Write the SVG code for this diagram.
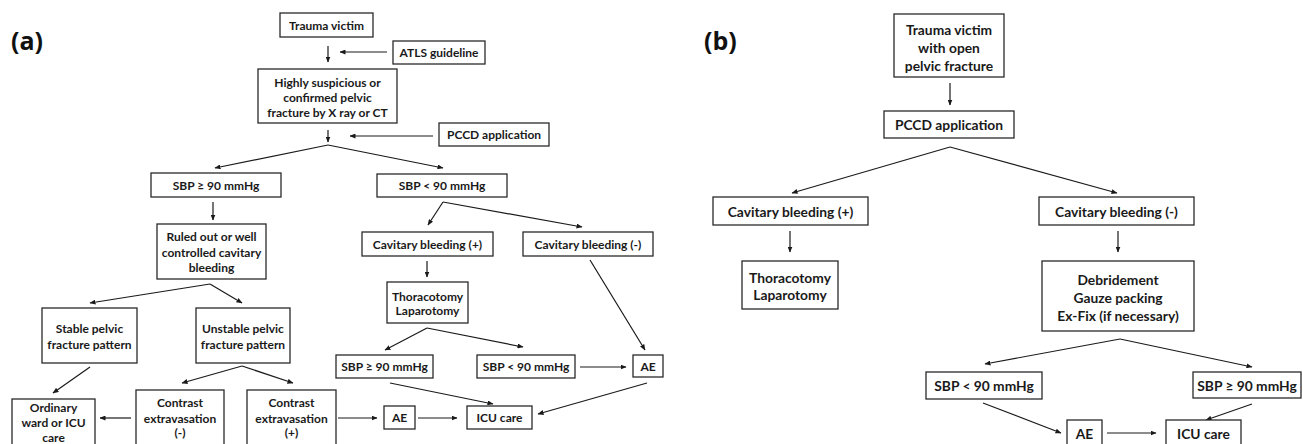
<svg xmlns="http://www.w3.org/2000/svg" width="1303" height="444" viewBox="0 0 1303 444">
<style>
  .box { fill: #ffffff; stroke: #2a2a2a; stroke-width: 1.3; }
  .t { font-family: Lato, "Open Sans", sans-serif; font-weight: bold; fill: #1a1a1a; text-anchor: middle; dominant-baseline: central; }
  .ta { font-size: 12px; }
  .tb { font-size: 13.8px; }
  .lbl { font-family: "Open Sans", Lato, sans-serif; font-weight: bold; font-size: 25px; fill: #111; }
  .c { stroke: #1a1a1a; stroke-width: 1.2; fill: none; }
  .ca { stroke: #1a1a1a; stroke-width: 1.2; fill: none; marker-end: url(#ah); }
</style>
<defs>
  <marker id="ah" markerWidth="6" markerHeight="5" refX="5.5" refY="2.5" orient="auto" markerUnits="userSpaceOnUse">
    <path d="M0,0 L6,2.5 L0,5 z" fill="#1a1a1a"/>
  </marker>
</defs>
<rect width="1303" height="444" fill="#ffffff"/>

<text class="lbl" x="11" y="50">(a)</text>
<text class="lbl" x="704" y="50">(b)</text>

<g id="connectors">
  <line class="ca" x1="328" y1="46" x2="328" y2="62"/>
  <line class="ca" x1="387" y1="52" x2="340" y2="52"/>
  <line class="ca" x1="328" y1="130" x2="328" y2="142"/>
  <line class="ca" x1="433" y1="136" x2="350" y2="136"/>
  <line class="ca" x1="328" y1="145" x2="215" y2="168"/>
  <line class="ca" x1="328" y1="145" x2="443" y2="168"/>
  <line class="ca" x1="213" y1="202" x2="213" y2="220"/>
  <line class="ca" x1="210" y1="284" x2="90" y2="303"/>
  <line class="ca" x1="210" y1="284" x2="242" y2="303"/>
  <line class="ca" x1="443" y1="202" x2="428" y2="225"/>
  <line class="ca" x1="443" y1="202" x2="582" y2="227"/>
  <line class="ca" x1="427" y1="261" x2="427" y2="277"/>
  <line class="ca" x1="427" y1="328" x2="385" y2="350"/>
  <line class="ca" x1="427" y1="328" x2="523" y2="347"/>
  <line class="ca" x1="90" y1="367" x2="53" y2="393"/>
  <line class="ca" x1="242" y1="366" x2="182" y2="383"/>
  <line class="ca" x1="242" y1="366" x2="293" y2="383"/>
  <line class="ca" x1="131" y1="418" x2="100" y2="418"/>
  <line class="ca" x1="338" y1="418" x2="377" y2="418"/>
  <line class="ca" x1="418" y1="418" x2="457" y2="418"/>
  <line class="ca" x1="580" y1="367" x2="626" y2="367"/>
  <line class="ca" x1="590" y1="260" x2="645" y2="350"/>
  <line class="ca" x1="390" y1="383" x2="493" y2="404"/>
  <line class="ca" x1="647" y1="383" x2="538" y2="414"/>

  <line class="ca" x1="950" y1="83" x2="950" y2="105"/>
  <line class="ca" x1="950" y1="147" x2="792" y2="193"/>
  <line class="ca" x1="950" y1="147" x2="1117" y2="193"/>
  <line class="ca" x1="790" y1="231" x2="790" y2="252"/>
  <line class="ca" x1="1118" y1="231" x2="1118" y2="252"/>
  <line class="ca" x1="1120" y1="339" x2="985" y2="364"/>
  <line class="ca" x1="1120" y1="339" x2="1252" y2="367"/>
  <line class="ca" x1="983" y1="403" x2="1061" y2="433"/>
  <line class="ca" x1="1107" y1="433" x2="1156" y2="433"/>
  <line class="ca" x1="1252" y1="404" x2="1206" y2="420"/>
</g>

<!-- Panel (a) -->
<g id="a-trauma"><rect class="box" x="280" y="13" width="93" height="24"/><text class="t ta" x="326.5" y="25">Trauma victim</text></g>
<g id="a-atls"><rect class="box" x="393" y="41" width="92" height="23"/><text class="t ta" x="439" y="52.5">ATLS guideline</text></g>
<g id="a-suspicious"><rect class="box" x="258" y="69" width="139" height="54"/>
  <text class="t ta" x="327.5" y="82">Highly suspicious or</text>
  <text class="t ta" x="327.5" y="97">confirmed pelvic</text>
  <text class="t ta" x="327.5" y="112">fracture by X ray or CT</text></g>
<g id="a-pccd"><rect class="box" x="439" y="123" width="110" height="23"/><text class="t ta" x="494" y="134.5">PCCD application</text></g>
<g id="a-sbp-hi"><rect class="box" x="151" y="173" width="130" height="24"/><text class="t ta" x="216" y="185">SBP ≥ 90 mmHg</text></g>
<g id="a-sbp-lo"><rect class="box" x="377" y="174" width="130" height="23"/><text class="t ta" x="442" y="185.5">SBP &lt; 90 mmHg</text></g>
<g id="a-ruled"><rect class="box" x="157" y="224" width="109" height="55"/>
  <text class="t ta" x="211.5" y="236">Ruled out or well</text>
  <text class="t ta" x="211.5" y="252">controlled cavitary</text>
  <text class="t ta" x="211.5" y="267">bleeding</text></g>
<g id="a-stable"><rect class="box" x="42" y="308" width="95" height="55"/>
  <text class="t ta" x="89.5" y="328">Stable pelvic</text>
  <text class="t ta" x="89.5" y="344">fracture pattern</text></g>
<g id="a-unstable"><rect class="box" x="196" y="308" width="94" height="55"/>
  <text class="t ta" x="243" y="328">Unstable pelvic</text>
  <text class="t ta" x="243" y="344">fracture pattern</text></g>
<g id="a-ordinary"><rect class="box" x="12" y="399" width="83" height="60"/>
  <text class="t ta" x="53.5" y="407">Ordinary</text>
  <text class="t ta" x="53.5" y="422">ward or ICU</text>
  <text class="t ta" x="53.5" y="437">care</text></g>
<g id="a-contrast-neg"><rect class="box" x="136" y="390" width="88" height="70"/>
  <text class="t ta" x="180" y="402">Contrast</text>
  <text class="t ta" x="180" y="418">extravasation</text>
  <text class="t ta" x="180" y="432">(-)</text></g>
<g id="a-contrast-pos"><rect class="box" x="247" y="390" width="89" height="70"/>
  <text class="t ta" x="291.5" y="402">Contrast</text>
  <text class="t ta" x="291.5" y="418">extravasation</text>
  <text class="t ta" x="291.5" y="432">(+)</text></g>
<g id="a-ae-low"><rect class="box" x="384" y="406" width="31" height="23"/><text class="t ta" x="399.5" y="417.5">AE</text></g>
<g id="a-icu"><rect class="box" x="467" y="406" width="65" height="23"/><text class="t ta" x="499.5" y="417.5">ICU care</text></g>
<g id="a-cav-pos"><rect class="box" x="362" y="232" width="131" height="24"/><text class="t ta" x="427.5" y="244">Cavitary bleeding (+)</text></g>
<g id="a-cav-neg"><rect class="box" x="523" y="232" width="130" height="24"/><text class="t ta" x="588" y="244">Cavitary bleeding (-)</text></g>
<g id="a-thoraco"><rect class="box" x="387" y="282" width="81" height="41"/>
  <text class="t ta" x="427.5" y="296">Thoracotomy</text>
  <text class="t ta" x="427.5" y="310">Laparotomy</text></g>
<g id="a-sbp-hi2"><rect class="box" x="336" y="355" width="97" height="23"/><text class="t ta" x="384.5" y="366.5">SBP ≥ 90 mmHg</text></g>
<g id="a-sbp-lo2"><rect class="box" x="477" y="355" width="98" height="23"/><text class="t ta" x="526" y="366.5">SBP &lt; 90 mmHg</text></g>
<g id="a-ae-up"><rect class="box" x="633" y="355" width="30" height="22"/><text class="t ta" x="648" y="366">AE</text></g>

<!-- Panel (b) -->
<g id="b-trauma"><rect class="box" x="894" y="14" width="110" height="63"/>
  <text class="t tb" x="949" y="29">Trauma victim</text>
  <text class="t tb" x="949" y="47">with open</text>
  <text class="t tb" x="949" y="65">pelvic fracture</text></g>
<g id="b-pccd"><rect class="box" x="884" y="111" width="130" height="27"/><text class="t tb" x="949" y="124.5">PCCD application</text></g>
<g id="b-cav-pos"><rect class="box" x="713" y="197" width="155" height="28"/><text class="t tb" x="790.5" y="211">Cavitary bleeding (+)</text></g>
<g id="b-cav-neg"><rect class="box" x="1039" y="197" width="155" height="28"/><text class="t tb" x="1116.5" y="211">Cavitary bleeding (-)</text></g>
<g id="b-thoraco"><rect class="box" x="742" y="261" width="96" height="48"/>
  <text class="t tb" x="790" y="277">Thoracotomy</text>
  <text class="t tb" x="790" y="294">Laparotomy</text></g>
<g id="b-debride"><rect class="box" x="1042" y="261" width="152" height="70"/>
  <text class="t tb" x="1118" y="279">Debridement</text>
  <text class="t tb" x="1118" y="297">Gauze packing</text>
  <text class="t tb" x="1118" y="315">Ex-Fix (if necessary)</text></g>
<g id="b-sbp-lo"><rect class="box" x="926" y="372" width="116" height="27"/><text class="t tb" x="984" y="385.5">SBP &lt; 90 mmHg</text></g>
<g id="b-sbp-hi"><rect class="box" x="1193" y="372" width="108" height="26"/><text class="t tb" x="1247" y="385">SBP ≥ 90 mmHg</text></g>
<g id="b-ae"><rect class="box" x="1067" y="420" width="35" height="40"/><text class="t tb" x="1084.5" y="433">AE</text></g>
<g id="b-icu"><rect class="box" x="1166" y="420" width="75" height="40"/><text class="t tb" x="1203.5" y="433">ICU care</text></g>
</svg>
